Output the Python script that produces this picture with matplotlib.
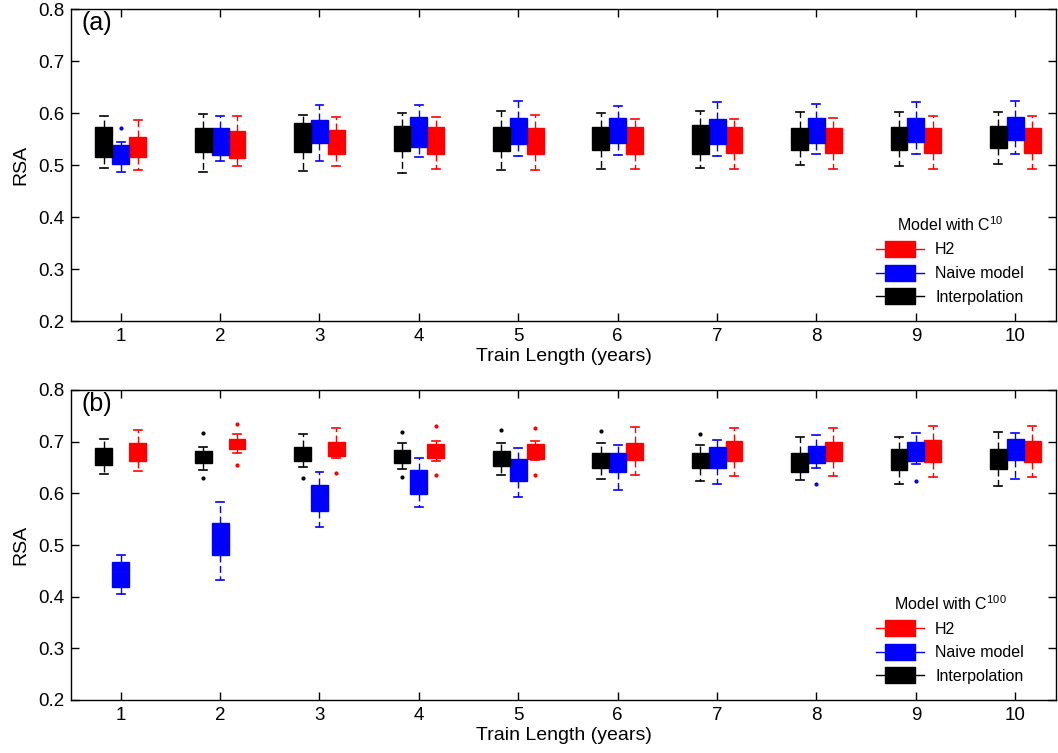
import numpy as np
import matplotlib

matplotlib.use('Agg')
import matplotlib.pyplot as plt
from matplotlib.lines import Line2D
from matplotlib.path import Path

plt.rcParams['font.family'] = ['Liberation Sans', 'DejaVu Sans']
plt.rcParams['mathtext.fontset'] = 'custom'
plt.rcParams['mathtext.rm'] = 'Liberation Sans'
plt.rcParams['mathtext.it'] = 'Liberation Sans:italic'

train_years = [1, 2, 3, 4, 5, 6, 7, 8, 9, 10]

# ---- panel (a): model with C^10 ----
a_interp_q1 = [0.516, 0.525, 0.525, 0.526, 0.526, 0.528, 0.522, 0.528, 0.529, 0.532]
a_interp_q3 = [0.573, 0.571, 0.581, 0.575, 0.573, 0.574, 0.576, 0.572, 0.573, 0.575]
a_interp_lo = [0.495, 0.487, 0.488, 0.485, 0.491, 0.492, 0.494, 0.500, 0.499, 0.502]
a_interp_hi = [0.594, 0.599, 0.597, 0.600, 0.603, 0.600, 0.603, 0.601, 0.601, 0.601]
a_interp_out = [[], [], [], [], [], [], [], [], [], []]

a_naive_q1 = [0.501, 0.519, 0.543, 0.534, 0.541, 0.543, 0.541, 0.542, 0.544, 0.549]
a_naive_q3 = [0.538, 0.572, 0.587, 0.593, 0.590, 0.590, 0.588, 0.590, 0.590, 0.592]
a_naive_lo = [0.486, 0.507, 0.508, 0.515, 0.517, 0.520, 0.517, 0.521, 0.522, 0.522]
a_naive_hi = [0.545, 0.594, 0.615, 0.615, 0.623, 0.614, 0.621, 0.617, 0.621, 0.624]
a_naive_out = [[0.572], [], [], [], [], [], [], [], [], []]

a_h2_q1 = [0.515, 0.514, 0.521, 0.522, 0.521, 0.522, 0.523, 0.524, 0.524, 0.524]
a_h2_q3 = [0.554, 0.565, 0.567, 0.574, 0.572, 0.574, 0.574, 0.572, 0.571, 0.571]
a_h2_lo = [0.490, 0.498, 0.499, 0.492, 0.491, 0.492, 0.492, 0.492, 0.492, 0.493]
a_h2_hi = [0.587, 0.595, 0.593, 0.593, 0.596, 0.588, 0.589, 0.591, 0.594, 0.595]
a_h2_out = [[], [], [], [], [], [], [], [], [], []]

# ---- panel (b): model with C^100 ----
b_interp_q1 = [0.655, 0.658, 0.662, 0.659, 0.653, 0.650, 0.649, 0.641, 0.645, 0.647]
b_interp_q3 = [0.687, 0.681, 0.689, 0.684, 0.682, 0.679, 0.678, 0.679, 0.685, 0.685]
b_interp_lo = [0.638, 0.646, 0.651, 0.647, 0.635, 0.627, 0.623, 0.625, 0.618, 0.615]
b_interp_hi = [0.705, 0.689, 0.715, 0.698, 0.698, 0.697, 0.694, 0.709, 0.710, 0.718]
b_interp_out = [[], [0.716, 0.629], [0.630], [0.718, 0.631], [0.722], [0.721], [0.714], [], [], []]

b_naive_q1 = [0.419, 0.481, 0.566, 0.598, 0.623, 0.641, 0.650, 0.659, 0.663, 0.665]
b_naive_q3 = [0.467, 0.542, 0.617, 0.645, 0.667, 0.678, 0.689, 0.691, 0.700, 0.706]
b_naive_lo = [0.406, 0.432, 0.535, 0.574, 0.593, 0.606, 0.618, 0.650, 0.657, 0.627]
b_naive_hi = [0.481, 0.584, 0.642, 0.669, 0.688, 0.694, 0.704, 0.712, 0.716, 0.716]
b_naive_out = [[], [], [], [], [], [], [], [0.619], [0.624], []]

b_h2_q1 = [0.662, 0.686, 0.672, 0.669, 0.667, 0.664, 0.663, 0.662, 0.660, 0.660]
b_h2_q3 = [0.697, 0.706, 0.700, 0.696, 0.696, 0.697, 0.701, 0.700, 0.703, 0.701]
b_h2_lo = [0.644, 0.679, 0.669, 0.662, 0.664, 0.635, 0.633, 0.633, 0.632, 0.632]
b_h2_hi = [0.723, 0.715, 0.726, 0.702, 0.701, 0.729, 0.727, 0.727, 0.730, 0.730]
b_h2_out = [[], [0.734, 0.654], [0.640], [0.730, 0.636], [0.727, 0.636], [], [], [], [], []]

model_names = ['H2', 'Naive model', 'Interpolation']
model_colors = ['#ff0000', '#0000ff', '#000000']
offsets = [0.17, 0.0, -0.17]
box_w = 0.17

# wide rectangle marker for the legend boxes
rect_marker = Path([(-1, -0.55), (1, -0.55), (1, 0.55), (-1, 0.55), (-1, -0.55)],
                   [Path.MOVETO, Path.LINETO, Path.LINETO, Path.LINETO, Path.CLOSEPOLY])


def make_stats(q1, q3, lo, hi, out):
    stats = []
    for i in range(len(q1)):
        stats.append({'med': q1[i], 'q1': q1[i], 'q3': q3[i],
                      'whislo': lo[i], 'whishi': hi[i], 'fliers': out[i]})
    return stats


def draw_panel(ax, series, letter, sup):
    for (q1, q3, lo, hi, out), c, off in zip(series, model_colors, offsets):
        pos = [x + off for x in train_years]
        ax.bxp(make_stats(q1, q3, lo, hi, out), positions=pos, widths=box_w,
               capwidths=0.08, patch_artist=True, manage_ticks=False,
               boxprops=dict(facecolor=c, edgecolor=c, linewidth=1),
               whiskerprops=dict(color=c, linewidth=1, linestyle=(0, (5, 2.5))),
               capprops=dict(color=c, linewidth=1.2),
               medianprops=dict(visible=False),
               flierprops=dict(marker='o', markersize=2, markerfacecolor=c,
                               markeredgecolor=c, linestyle='none'))
    ax.set_xlim(0.5, 10.41)
    ax.set_ylim(0.2, 0.8)
    ax.set_xticks(train_years)
    ax.set_yticks(np.arange(0.2, 0.81, 0.1))
    ax.set_yticklabels(['0.2', '0.3', '0.4', '0.5', '0.6', '0.7', '0.8'])
    ax.tick_params(direction='in', length=6, width=1, labelsize=13.5,
                   top=True, right=True, pad=5)
    for s in ax.spines.values():
        s.set_linewidth(1)
    ax.set_xlabel('Train Length (years)', fontsize=14, labelpad=2)
    ax.set_ylabel('RSA', fontsize=14, labelpad=6)
    ax.text(0.011, 0.955, letter, transform=ax.transAxes, fontsize=18,
            va='center', ha='left')
    handles = []
    for c in model_colors:
        handles.append(Line2D([0, 1], [0, 0], color=c, linewidth=1,
                              marker=rect_marker, markersize=22,
                              markerfacecolor=c, markeredgecolor=c))
    leg = ax.legend(handles, model_names, loc='lower right',
                    bbox_to_anchor=(0.982, 0.005), frameon=False, fontsize=11.5,
                    handlelength=3.0, handletextpad=0.7, labelspacing=0.55,
                    numpoints=1, title='Model with C$^{' + sup + '}$',
                    title_fontsize=11.5)
    leg._legend_box.sep = 6


fig = plt.figure(figsize=(10.58, 7.53), dpi=100)
ax1 = fig.add_axes([71 / 1058, 1 - 321 / 753, 985 / 1058, 312 / 753])
ax2 = fig.add_axes([71 / 1058, 1 - 700 / 753, 985 / 1058, 310 / 753])

draw_panel(ax1, [(a_h2_q1, a_h2_q3, a_h2_lo, a_h2_hi, a_h2_out),
                 (a_naive_q1, a_naive_q3, a_naive_lo, a_naive_hi, a_naive_out),
                 (a_interp_q1, a_interp_q3, a_interp_lo, a_interp_hi, a_interp_out)],
           '(a)', '10')
draw_panel(ax2, [(b_h2_q1, b_h2_q3, b_h2_lo, b_h2_hi, b_h2_out),
                 (b_naive_q1, b_naive_q3, b_naive_lo, b_naive_hi, b_naive_out),
                 (b_interp_q1, b_interp_q3, b_interp_lo, b_interp_hi, b_interp_out)],
           '(b)', '100')

fig.savefig('out.png', dpi=100)
